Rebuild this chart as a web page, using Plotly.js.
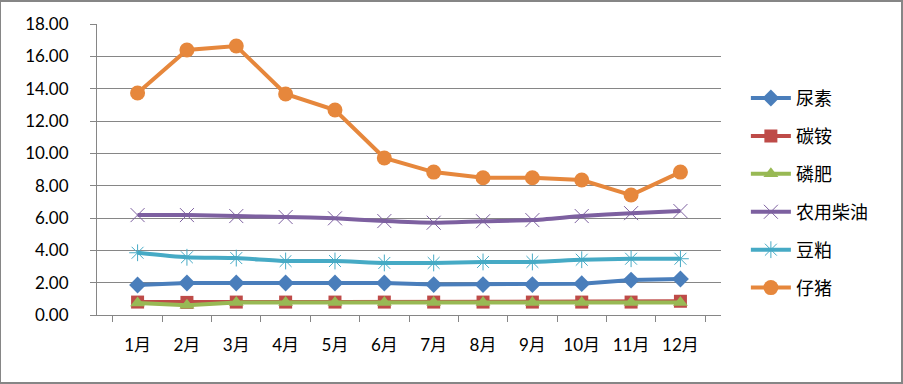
<!DOCTYPE html>
<html>
<head>
<meta charset="utf-8">
<script src="https://cdn.plot.ly/plotly-3.0.1.min.js"></script>
<style>
html,body{margin:0;padding:0;background:#fff;}
#chart{width:903px;height:384px;}
</style>
</head>
<body>
<div id="chart"></div>
<script>
const months = ["1月","2月","3月","4月","5月","6月","7月","8月","9月","10月","11月","12月"];
const seriesNames = ["尿素","碳铵","磷肥","农用柴油","豆粕","仔猪"];
const niaosu   = [1.86,1.98,1.98,1.98,1.98,1.98,1.88,1.88,1.88,1.94,2.16,2.23];
const tanan    = [0.80,0.78,0.80,0.80,0.80,0.80,0.80,0.80,0.80,0.80,0.80,0.85];
const linfei   = [0.75,0.60,0.78,0.78,0.78,0.78,0.78,0.78,0.78,0.78,0.78,0.78];
const chaiyou  = [6.18,6.18,6.12,6.06,5.98,5.81,5.71,5.80,5.87,6.12,6.30,6.43];
const doupo    = [3.85,3.57,3.52,3.34,3.34,3.22,3.22,3.28,3.28,3.42,3.48,3.48];
const zizhu    = [13.73,16.39,16.64,13.67,12.68,9.71,8.84,8.49,8.49,8.35,7.42,8.84];
const yTicks = [0,2,4,6,8,10,12,14,16,18];

const seriesValues = [niaosu, tanan, linfei, chaiyou, doupo, zizhu];
const styles = [
  {color:"#4A7EBB", symbol:"diamond", size:13, shape:"linear", mline:0},
  {color:"#BE4B48", symbol:"square", size:13, shape:"linear", mline:0},
  {color:"#98B954", symbol:"triangle-up", size:13, shape:"linear", mline:0},
  {color:"#7D60A0", symbol:"x-thin-open", size:14, shape:"spline", mline:1},
  {color:"#46AAC5", symbol:"asterisk-open", size:14, shape:"spline", mline:1},
  {color:"#E6873C", symbol:"circle", size:15, shape:"linear", mline:0}
];

const traces = seriesNames.map((n,i)=>({
  type:"scatter", mode:"lines+markers", name:n, x:months, y:seriesValues[i],
  legendgroup:"g"+i,
  line:{color:styles[i].color, width:4, shape:styles[i].shape, smoothing:0.6},
  marker:{symbol:styles[i].symbol, size:styles[i].size, color:styles[i].color,
          line:{color:styles[i].color, width:styles[i].mline}}
}));

const layout = {
  width:903, height:384,
  margin:{l:97, r:182, t:24, b:69},
  paper_bgcolor:"#fff", plot_bgcolor:"#fff",
  font:{family:"Lato, 'Noto Sans CJK SC', sans-serif", size:17, color:"#000"},
  showlegend:true,
  legend:{
    xref:"container", yref:"container", x:0.826, y:0.792, xanchor:"left", yanchor:"top",
    font:{family:"'Noto Sans CJK SC', sans-serif", size:18, color:"#000"},
    traceorder:"grouped", tracegroupgap:11.5, itemwidth:40, maxheight:1,
    bgcolor:"rgba(0,0,0,0)"
  },
  xaxis:{
    type:"category", showgrid:false, zeroline:false,
    showline:true, linecolor:"#868686", linewidth:1,
    ticks:"outside", tickson:"boundaries", ticklen:6, tickcolor:"#868686",
    ticklabelstandoff:15,
    tickfont:{family:"Lato, 'Noto Sans CJK SC', sans-serif", size:17}
  },
  yaxis:{
    range:[0,18], tickvals:yTicks, tickformat:".2f",
    showgrid:true, gridcolor:"#868686", gridwidth:1, zeroline:false,
    showline:true, linecolor:"#868686", linewidth:1,
    ticks:"outside", ticklen:6, tickcolor:"#868686",
    ticklabelstandoff:18,
    tickfont:{family:"Lato, sans-serif", size:17}
  },
  shapes:[{type:"rect", xref:"paper", yref:"paper", x0:-97/624, x1:1+181/624, y0:-68/291, y1:1+23/291,
           line:{color:"#868686", width:2}, fillcolor:"rgba(0,0,0,0)"}]
};

Plotly.newPlot("chart", traces, layout, {displayModeBar:false, staticPlot:true});
</script>
</body>
</html>
